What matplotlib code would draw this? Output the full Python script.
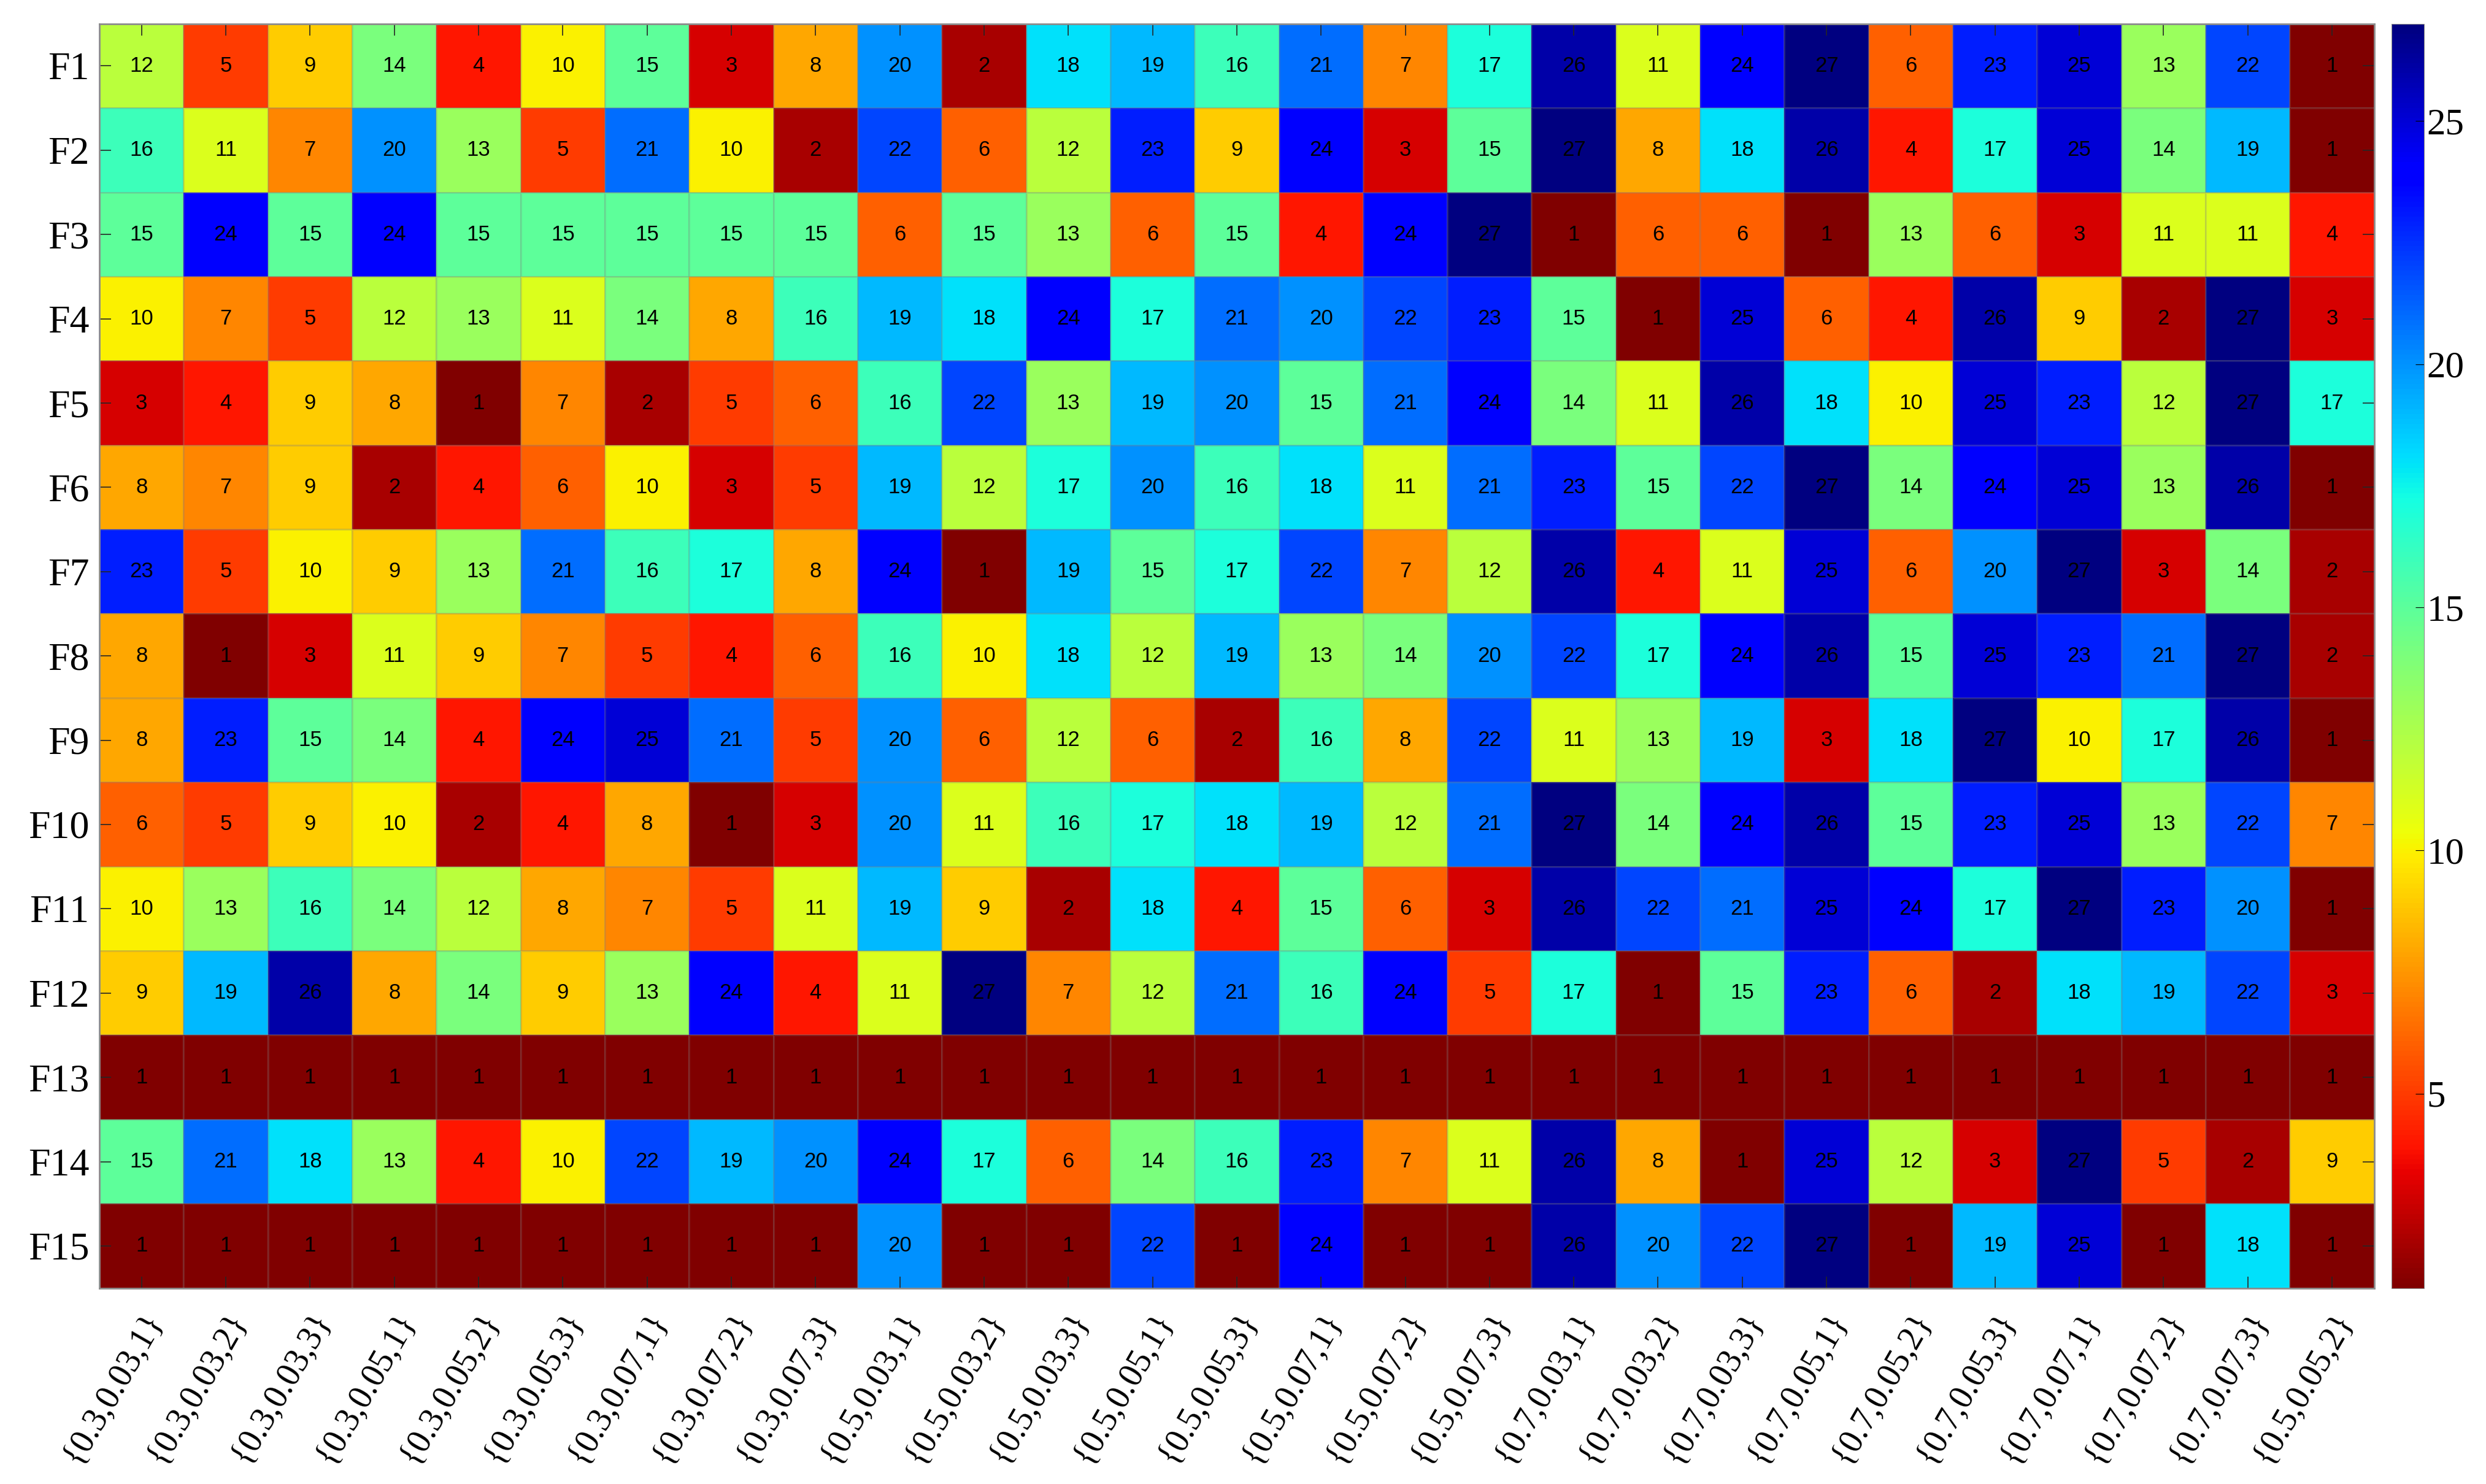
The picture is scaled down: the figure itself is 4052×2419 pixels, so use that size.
import numpy as np
import matplotlib
matplotlib.use("Agg")
import matplotlib.pyplot as plt

rows = [f"F{i}" for i in range(1, 16)]
cols = ["{0.3,0.03,1}", "{0.3,0.03,2}", "{0.3,0.03,3}", "{0.3,0.05,1}", "{0.3,0.05,2}", "{0.3,0.05,3}",
        "{0.3,0.07,1}", "{0.3,0.07,2}", "{0.3,0.07,3}", "{0.5,0.03,1}", "{0.5,0.03,2}", "{0.5,0.03,3}",
        "{0.5,0.05,1}", "{0.5,0.05,3}", "{0.5,0.07,1}", "{0.5,0.07,2}", "{0.5,0.07,3}", "{0.7,0.03,1}",
        "{0.7,0.03,2}", "{0.7,0.03,3}", "{0.7,0.05,1}", "{0.7,0.05,2}", "{0.7,0.05,3}", "{0.7,0.07,1}",
        "{0.7,0.07,2}", "{0.7,0.07,3}", "{0.5,0.05,2}"]

F1 = [12,5,9,14,4,10,15,3,8,20,2,18,19,16,21,7,17,26,11,24,27,6,23,25,13,22,1]
F2 = [16,11,7,20,13,5,21,10,2,22,6,12,23,9,24,3,15,27,8,18,26,4,17,25,14,19,1]
F3 = [15,24,15,24,15,15,15,15,15,6,15,13,6,15,4,24,27,1,6,6,1,13,6,3,11,11,4]
F4 = [10,7,5,12,13,11,14,8,16,19,18,24,17,21,20,22,23,15,1,25,6,4,26,9,2,27,3]
F5 = [3,4,9,8,1,7,2,5,6,16,22,13,19,20,15,21,24,14,11,26,18,10,25,23,12,27,17]
F6 = [8,7,9,2,4,6,10,3,5,19,12,17,20,16,18,11,21,23,15,22,27,14,24,25,13,26,1]
F7 = [23,5,10,9,13,21,16,17,8,24,1,19,15,17,22,7,12,26,4,11,25,6,20,27,3,14,2]
F8 = [8,1,3,11,9,7,5,4,6,16,10,18,12,19,13,14,20,22,17,24,26,15,25,23,21,27,2]
F9 = [8,23,15,14,4,24,25,21,5,20,6,12,6,2,16,8,22,11,13,19,3,18,27,10,17,26,1]
F10 = [6,5,9,10,2,4,8,1,3,20,11,16,17,18,19,12,21,27,14,24,26,15,23,25,13,22,7]
F11 = [10,13,16,14,12,8,7,5,11,19,9,2,18,4,15,6,3,26,22,21,25,24,17,27,23,20,1]
F12 = [9,19,26,8,14,9,13,24,4,11,27,7,12,21,16,24,5,17,1,15,23,6,2,18,19,22,3]
F13 = [1]*27
F14 = [15,21,18,13,4,10,22,19,20,24,17,6,14,16,23,7,11,26,8,1,25,12,3,27,5,2,9]
F15 = [1,1,1,1,1,1,1,1,1,20,1,1,22,1,24,1,1,26,20,22,27,1,19,25,1,18,1]

data = np.array([F1,F2,F3,F4,F5,F6,F7,F8,F9,F10,F11,F12,F13,F14,F15])

serif = ["Liberation Serif", "DejaVu Serif"]
fig = plt.figure(figsize=(40.52, 24.19), dpi=100)
ax = fig.add_axes([0.040, 0.132, 0.915, 0.852])
cax = fig.add_axes([0.962, 0.132, 0.013, 0.852])

cmap = plt.get_cmap("jet_r")
m = ax.pcolormesh(np.arange(28)-0.5, np.arange(16)-0.5, data, cmap=cmap, vmin=1, vmax=27,
                  edgecolors=(0.5, 0.5, 0.5, 0.25), linewidth=0.8)
ax.set_xlim(-0.5, 26.5)
ax.set_ylim(14.5, -0.5)
for i in range(data.shape[0]):
    for j in range(data.shape[1]):
        ax.text(j, i, str(data[i, j]), ha="center", va="center", fontsize=25, color="black",
                family=["Liberation Sans"])

ax.set_xticks(range(27))
ax.set_xticklabels(cols, rotation=60, ha="right", rotation_mode="anchor", family=serif, fontsize=40)
ax.set_yticks(range(15))
ax.set_yticklabels(rows, family=serif, fontsize=46)
ax.tick_params(direction="in", length=14, width=1.2, color=(0.15, 0.15, 0.15), pad=12,
               top=True, right=True)
ax.tick_params(axis="x", pad=22)
for s in ax.spines.values():
    s.set_color("0.55")
    s.set_linewidth(2)

cb = fig.colorbar(m, cax=cax, ticks=[5, 10, 15, 20, 25])
cb.ax.tick_params(labelsize=44, direction="in", length=10)
for t in cb.ax.get_yticklabels():
    t.set_family(serif)
cb.outline.set_edgecolor("0.55")

fig.savefig("out.png", dpi=100)
